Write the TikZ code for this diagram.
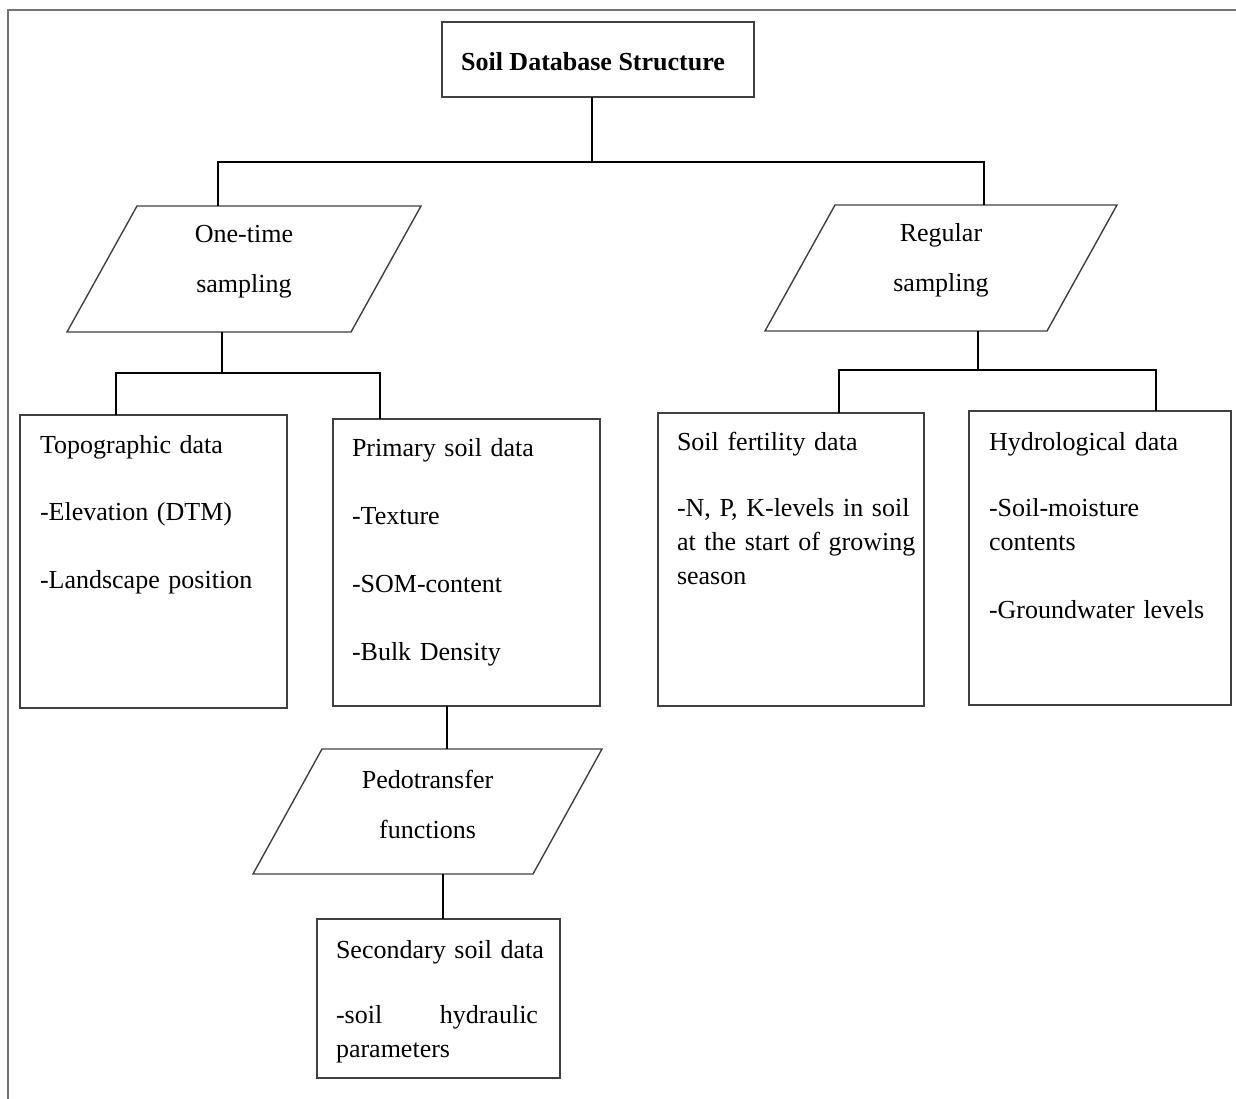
\documentclass[tikz,border=0pt]{standalone}
\usepackage{fontspec}
\setmainfont{Liberation Serif}
\usetikzlibrary{calc}
\begin{document}
\begin{tikzpicture}[x=1pt,y=-1pt,
  every node/.style={inner sep=0pt, outer sep=0pt},
  frameline/.style={line width=1.8pt, draw=black!55},
  boxstyle/.style={draw=black!75, line width=1.4pt, rectangle},
  conn/.style={line width=2pt, draw=black},
  bodytext/.style={anchor=base west, align=left, font=\fontsize{26}{34}\selectfont},
  paratext/.style={align=center, font=\fontsize{26}{50}\selectfont},
  parashape/.style={draw=black!75, line width=1.4pt}
]
\useasboundingbox (0,0) rectangle (1236,1099);
\draw[frameline] (8,1099) -- (8,10) -- (1236,10);

% title
\node[boxstyle, minimum width=312pt, minimum height=75pt] (title) at (598,59.5) {};
\node[anchor=base, font=\fontsize{26}{34}\selectfont\bfseries] (titlet) at (593,71) {Soil Database Structure};

% parallelograms
\node[minimum width=354pt, minimum height=126pt] (onetime) at (244,269) {};
\draw[parashape] ($(onetime.north west)+(70,0)$) -- (onetime.north east) -- ($(onetime.south east)+(-70,0)$) -- (onetime.south west) -- cycle;
\node[paratext] (onetimet) at (244,262) {One-time\\sampling};

\node[minimum width=352pt, minimum height=126pt] (regular) at (941,268) {};
\draw[parashape] ($(regular.north west)+(70,0)$) -- (regular.north east) -- ($(regular.south east)+(-70,0)$) -- (regular.south west) -- cycle;
\node[paratext] (regulart) at (941,260) {Regular\\sampling};

\node[minimum width=349pt, minimum height=125pt] (pedo) at (427.5,811.5) {};
\draw[parashape] ($(pedo.north west)+(69,0)$) -- (pedo.north east) -- ($(pedo.south east)+(-69,0)$) -- (pedo.south west) -- cycle;
\node[paratext] (pedot) at (427.5,804.5) {Pedotransfer\\functions};

% boxes
\node[boxstyle, minimum width=267pt, minimum height=293pt] (topo) at (153.5,561.5) {};
\node[bodytext, text width=240pt] (topot) at (40,453) {Topographic data\\[33.5pt]-Elevation (DTM)\\[33.5pt]-Landscape position};

\node[boxstyle, minimum width=267pt, minimum height=287pt] (primary) at (466.5,562.5) {};
\node[bodytext, text width=240pt] (primaryt) at (352,456) {Primary soil data\\[34pt]-Texture\\[34pt]-SOM-content\\[34pt]-Bulk Density};

\node[boxstyle, minimum width=266pt, minimum height=293pt] (fert) at (791,559.5) {};
\node[bodytext, text width=240pt] (fertt) at (677,450) {Soil fertility data\\[32pt]-N, P, K-levels in soil\\at the start of growing\\season};

\node[boxstyle, minimum width=262pt, minimum height=294pt] (hydro) at (1100,558) {};
\node[bodytext, text width=240pt] (hydrot) at (989,450) {Hydrological data\\[32pt]-Soil-moisture\\contents\\[34pt]-Groundwater levels};

\node[boxstyle, minimum width=243pt, minimum height=159pt] (secondary) at (438.5,998.5) {};
\node[bodytext, text width=225pt] (secondaryt) at (336,958) {Secondary soil data\\[31pt]\makebox[202pt]{-soil\hfill hydraulic}\\parameters};

% connectors
\coordinate (b1m) at (592,162);
\coordinate (b1l) at (218,162);
\coordinate (b1r) at (984,162);
\draw[conn] (b1m |- title.south) -- (b1m);
\draw[conn] (b1l |- onetime.north) -- (b1l) -- (b1r) -- (b1r |- regular.north);

\coordinate (b2m) at (222,373);
\coordinate (b2l) at (116,373);
\coordinate (b2r) at (380,373);
\draw[conn] (b2m |- onetime.south) -- (b2m);
\draw[conn] (b2l |- topo.north) -- (b2l) -- (b2r) -- (b2r |- primary.north);

\coordinate (b3m) at (978,370);
\coordinate (b3l) at (839,370);
\coordinate (b3r) at (1156,370);
\draw[conn] (b3m |- regular.south) -- (b3m);
\draw[conn] (b3l |- fert.north) -- (b3l) -- (b3r) -- (b3r |- hydro.north);

\coordinate (c4) at (447,727);
\draw[conn] (c4 |- primary.south) -- (c4 |- pedo.north);
\coordinate (c5) at (443,897);
\draw[conn] (c5 |- pedo.south) -- (c5 |- secondary.north);
\end{tikzpicture}
\end{document}
